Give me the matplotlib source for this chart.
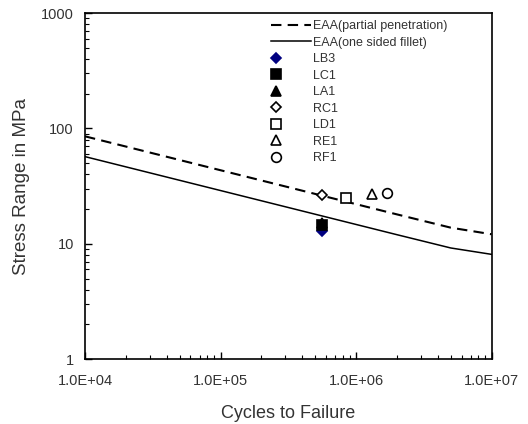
import matplotlib
matplotlib.use("Agg")
import matplotlib.pyplot as plt
import numpy as np
from matplotlib.legend_handler import HandlerLine2D
from matplotlib.ticker import FixedLocator, FuncFormatter, LogLocator, NullFormatter

plt.rcParams['font.family'] = ['Liberation Sans', 'DejaVu Sans']

# EAA design curves
curve_N = [1e4, 2e6, 5e6, 1e7]
eaa_partial = [85.5, 18.0, 13.8, 12.1]
eaa_fillet = [57.0, 12.0, 9.2, 8.1]

# Test specimens
spec_names = ["LB3", "LC1", "LA1", "RC1", "LD1", "RE1", "RF1"]
spec_N = [5.6e5, 5.6e5, 5.6e5, 5.6e5, 8.5e5, 1.32e6, 1.69e6]
spec_S = [13.0, 14.5, 15.0, 26.5, 24.8, 26.8, 27.4]
spec_marker = ["D", "s", "^", "D", "s", "^", "o"]
spec_face = ["#000080", "black", "black", "white", "white", "white", "white"]
spec_edge = ["#000080", "black", "black", "black", "black", "black", "black"]
spec_size = [5, 7, 7, 5, 7, 7, 7]

x_ticks = [1e4, 1e5, 1e6, 1e7]
y_ticks = [1, 10, 100, 1000]


class LeftMarkerHandler(HandlerLine2D):
    """Place the single legend marker near the left end of the handle."""
    def get_xdata(self, legend, xdescent, ydescent, width, height, fontsize):
        x0 = -xdescent
        xdata = [x0, x0 + 0.24 * width]
        return xdata, [x0 + 0.12 * width]


fig = plt.figure(figsize=(5.28, 4.24), dpi=100)
ax = fig.add_axes([0.161, 0.153, 0.770, 0.816])

ax.plot(curve_N, eaa_partial, color="black", lw=1.5, linestyle=(0, (5, 3)),
        label="EAA(partial penetration)")
ax.plot(curve_N, eaa_fillet, color="black", lw=1.1, label="EAA(one sided fillet)")

for name, n, s, m, fc, ec, ms in zip(spec_names, spec_N, spec_S, spec_marker,
                                      spec_face, spec_edge, spec_size):
    ax.plot([n], [s], linestyle="none", marker=m, markersize=ms,
            markerfacecolor=fc, markeredgecolor=ec, markeredgewidth=1.2, label=name)

ax.set_xscale("log")
ax.set_yscale("log")
ax.set_xlim(1e4, 1e7)
ax.set_ylim(1, 1000)

ax.xaxis.set_major_locator(FixedLocator(x_ticks))
ax.xaxis.set_major_formatter(FuncFormatter(lambda v, p: "%.1E" % v))
ax.yaxis.set_major_locator(FixedLocator(y_ticks))
ax.yaxis.set_major_formatter(FuncFormatter(lambda v, p: "%d" % v))
ax.xaxis.set_minor_locator(LogLocator(base=10, subs=np.arange(2, 10)))
ax.yaxis.set_minor_locator(LogLocator(base=10, subs=np.arange(2, 10)))
ax.xaxis.set_minor_formatter(NullFormatter())
ax.yaxis.set_minor_formatter(NullFormatter())

ax.tick_params(axis="both", which="both", direction="in", top=False, right=False,
               labelsize=10.5, labelcolor="#333333")
ax.tick_params(axis="x", which="major", length=5, width=1, pad=11)
ax.tick_params(axis="y", which="major", length=5, width=1, pad=8)
ax.tick_params(axis="both", which="minor", length=3, width=0.8)
for sp in ax.spines.values():
    sp.set_linewidth(1.2)

ax.set_xlabel("Cycles to Failure", fontsize=13, color="#333333", labelpad=12)
ax.set_ylabel("Stress Range in MPa", fontsize=13.5, color="#333333")
ax.yaxis.set_label_coords(-0.135, 0.5)

handles, labels = ax.get_legend_handles_labels()
leg = ax.legend(handles, labels, loc="upper left", bbox_to_anchor=(0.43, 1.012),
                frameon=False, fontsize=9, handlelength=3.2, handletextpad=0.15,
                labelspacing=0.36, numpoints=1,
                handler_map={h: LeftMarkerHandler() for h in handles[2:]})
for t in leg.get_texts():
    t.set_color("#333333")

fig.savefig("out.png", dpi=100)
